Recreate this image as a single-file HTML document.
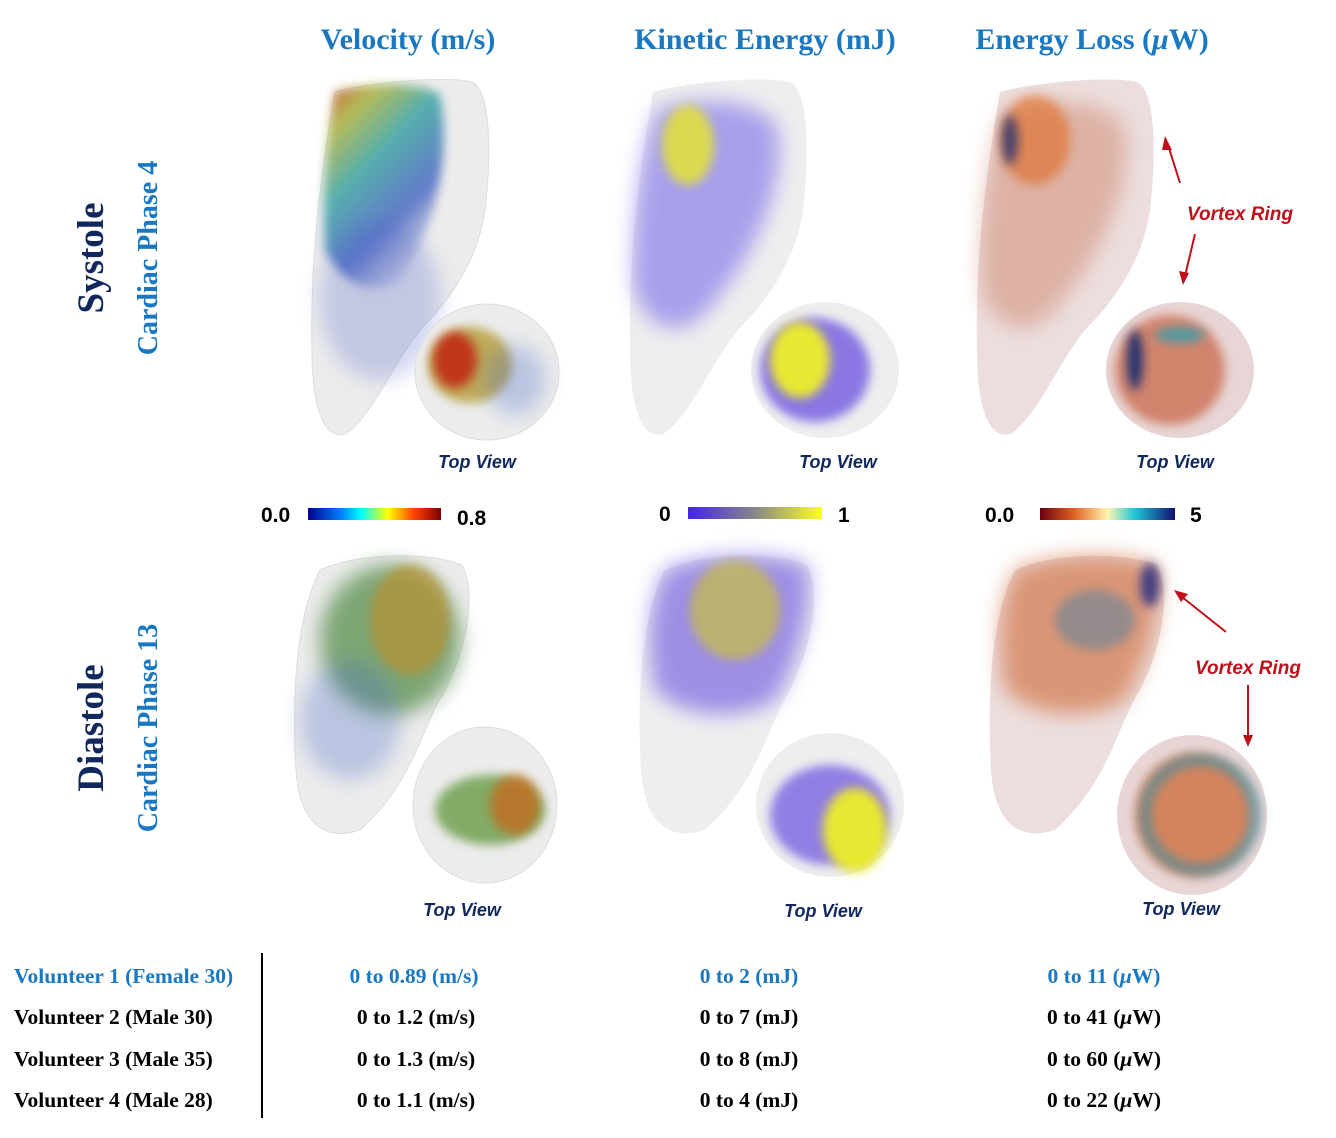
<!DOCTYPE html>
<html><head><meta charset="utf-8">
<style>
body{margin:0;background:#fff;width:1336px;height:1138px;overflow:hidden;font-family:"Liberation Serif",serif}
svg{position:absolute;left:0;top:0}
</style></head><body>
<svg width="1336" height="1138" viewBox="0 0 1336 1138">
<defs>
<filter id="bl" x="-50%" y="-50%" width="200%" height="200%"><feGaussianBlur stdDeviation="10"/></filter>
<filter id="bl2" x="-50%" y="-50%" width="200%" height="200%"><feGaussianBlur stdDeviation="5"/></filter>
<linearGradient id="jet"><stop offset="0" stop-color="#00008f"/><stop offset=".25" stop-color="#0080ff"/><stop offset=".4" stop-color="#00ffff"/><stop offset=".6" stop-color="#ffff00"/><stop offset=".8" stop-color="#ff4000"/><stop offset="1" stop-color="#800000"/></linearGradient>
<linearGradient id="ke"><stop offset="0" stop-color="#4422ee"/><stop offset=".5" stop-color="#888888"/><stop offset="1" stop-color="#ffff22"/></linearGradient>
<linearGradient id="el"><stop offset="0" stop-color="#6a0010"/><stop offset=".25" stop-color="#e06020"/><stop offset=".5" stop-color="#fff5b0"/><stop offset=".7" stop-color="#20c8d8"/><stop offset="1" stop-color="#101070"/></linearGradient>
<linearGradient id="velS" x1="0" y1="0" x2="0.6" y2="1"><stop offset="0" stop-color="#c03010"/><stop offset=".2" stop-color="#a8b030"/><stop offset=".45" stop-color="#30a0a0"/><stop offset=".75" stop-color="#4060c0"/><stop offset="1" stop-color="#8090d0" stop-opacity=".3"/></linearGradient>
<path id="lvS" d="M335 92 C360 84 440 75 472 82 C490 90 492 150 485 210 C478 260 450 300 420 330 C395 360 370 420 345 434 C325 440 312 410 312 350 C310 260 320 180 335 92Z"/>
<path id="lvD" d="M320 570 C360 552 430 552 462 565 C475 590 470 640 445 690 C420 730 415 780 360 830 C330 840 300 830 296 770 C292 700 295 620 320 570Z"/>
</defs>

<g font-weight="bold" font-size="30" fill="#1a78c2" text-anchor="middle">
<text x="408" y="49">Velocity (m/s)</text>
<text x="765" y="49">Kinetic Energy (mJ)</text>
<text x="1092" y="49">Energy Loss (<tspan font-style="italic">μ</tspan>W)</text>
</g>
<g font-weight="bold" text-anchor="middle">
<text transform="translate(103,258) rotate(-90)" font-size="37" fill="#10285e">Systole</text>
<text transform="translate(157,258) rotate(-90)" font-size="28" fill="#1a78c2">Cardiac Phase 4</text>
<text transform="translate(103,728) rotate(-90)" font-size="37" fill="#10285e">Diastole</text>
<text transform="translate(157,728) rotate(-90)" font-size="28" fill="#1a78c2">Cardiac Phase 13</text>
</g>

<g>
<use href="#lvS" fill="#ececec" stroke="#ddd"/>
<path d="M335 92 C360 84 420 80 440 95 C450 150 440 220 400 280 C370 300 340 280 325 250 C322 180 328 130 335 92Z" fill="url(#velS)" filter="url(#bl2)" opacity=".8"/>
<ellipse cx="380" cy="300" rx="60" ry="80" fill="#4a5cc8" opacity=".25" filter="url(#bl)"/>
</g>
<g>
<ellipse cx="487" cy="372" rx="72" ry="68" fill="#ececec" stroke="#ddd"/>
<ellipse cx="470" cy="365" rx="42" ry="38" fill="#b8a040" opacity=".85" filter="url(#bl2)"/>
<ellipse cx="455" cy="360" rx="22" ry="28" fill="#c02010" opacity=".85" filter="url(#bl2)"/>
<ellipse cx="515" cy="380" rx="30" ry="35" fill="#4a6cc8" opacity=".3" filter="url(#bl)"/>
</g>
<g transform="translate(318,0)">
<use href="#lvS" fill="#eeeeef"/>
<path d="M340 110 C380 95 450 100 460 130 C470 200 420 280 380 320 C350 340 320 320 315 280 C315 200 325 140 340 110Z" fill="#7060e8" opacity=".55" filter="url(#bl)"/>
<ellipse cx="370" cy="145" rx="26" ry="40" fill="#e0e040" opacity=".9" filter="url(#bl2)"/>
</g>
<g>
<ellipse cx="825" cy="370" rx="74" ry="68" fill="#eeeeef"/>
<ellipse cx="815" cy="370" rx="55" ry="52" fill="#6a50e0" opacity=".75" filter="url(#bl2)"/>
<ellipse cx="800" cy="360" rx="30" ry="38" fill="#e8e830" filter="url(#bl2)"/>
</g>
<g transform="translate(665,0)">
<use href="#lvS" fill="#ecdede"/>
<path d="M340 110 C380 95 450 100 460 130 C470 200 420 280 380 320 C350 340 320 320 315 280 C315 200 325 140 340 110Z" fill="#c87050" opacity=".4" filter="url(#bl)"/>
<ellipse cx="370" cy="140" rx="35" ry="45" fill="#e06a20" opacity=".6" filter="url(#bl2)"/>
<ellipse cx="345" cy="140" rx="8" ry="25" fill="#203070" opacity=".8" filter="url(#bl2)"/>
</g>
<g>
<ellipse cx="1180" cy="370" rx="74" ry="68" fill="#e8d6d6"/>
<ellipse cx="1170" cy="370" rx="55" ry="55" fill="#c86040" opacity=".7" filter="url(#bl2)"/>
<ellipse cx="1135" cy="360" rx="8" ry="30" fill="#203070" filter="url(#bl2)"/>
<ellipse cx="1180" cy="335" rx="25" ry="8" fill="#30a0b0" opacity=".8" filter="url(#bl2)"/>
</g>

<g font-family="Liberation Sans,sans-serif" font-style="italic" font-weight="bold" font-size="18" fill="#10285e" text-anchor="middle">
<text x="477" y="468">Top View</text>
<text x="838" y="468">Top View</text>
<text x="1175" y="468">Top View</text>
<text x="462" y="916">Top View</text>
<text x="823" y="917">Top View</text>
<text x="1181" y="915">Top View</text>
</g>

<g font-family="Liberation Sans,sans-serif" font-weight="bold" font-size="21" fill="#000">
<text x="261" y="522">0.0</text>
<rect x="308" y="508" width="133" height="12" fill="url(#jet)"/>
<text x="457" y="525">0.8</text>
<text x="659" y="521">0</text>
<rect x="688" y="507" width="134" height="12" fill="url(#ke)"/>
<text x="838" y="522">1</text>
<text x="985" y="522">0.0</text>
<rect x="1040" y="508" width="135" height="12" fill="url(#el)"/>
<text x="1190" y="522">5</text>
</g>

<g>
<use href="#lvD" fill="#ececec" stroke="#ddd"/>
<ellipse cx="390" cy="640" rx="70" ry="75" fill="#6a9a60" opacity=".85" filter="url(#bl)"/>
<ellipse cx="410" cy="620" rx="40" ry="55" fill="#b89030" filter="url(#bl2)" opacity=".7"/>
<ellipse cx="350" cy="720" rx="50" ry="60" fill="#4a6cc8" opacity=".3" filter="url(#bl)"/>
</g>
<g>
<ellipse cx="485" cy="805" rx="72" ry="78" fill="#ececec" stroke="#ddd"/>
<ellipse cx="490" cy="810" rx="55" ry="35" fill="#70a050" opacity=".85" filter="url(#bl2)"/>
<ellipse cx="515" cy="805" rx="25" ry="30" fill="#c07020" opacity=".85" filter="url(#bl2)"/>
</g>
<g transform="translate(345,0)">
<use href="#lvD" fill="#eeeeef"/>
<path d="M320 570 C360 552 430 552 462 565 C470 600 455 660 430 700 C400 720 340 720 310 690 C300 640 305 600 320 570Z" fill="#6a50e0" opacity=".6" filter="url(#bl)"/>
<ellipse cx="390" cy="610" rx="45" ry="50" fill="#c8c040" opacity=".7" filter="url(#bl2)"/>
</g>
<g>
<ellipse cx="830" cy="805" rx="74" ry="72" fill="#eeeeef"/>
<ellipse cx="830" cy="815" rx="60" ry="50" fill="#6a50e0" opacity=".7" filter="url(#bl2)"/>
<ellipse cx="855" cy="830" rx="32" ry="42" fill="#e8e830" filter="url(#bl2)"/>
</g>
<g transform="translate(695,0)">
<use href="#lvD" fill="#ecdede"/>
<path d="M320 570 C360 552 430 552 462 565 C470 600 455 660 430 700 C400 720 340 720 310 690 C300 640 305 600 320 570Z" fill="#d07040" opacity=".65" filter="url(#bl)"/>
<ellipse cx="400" cy="620" rx="40" ry="30" fill="#5080a0" opacity=".5" filter="url(#bl2)"/>
<ellipse cx="455" cy="585" rx="10" ry="22" fill="#202880" opacity=".8" filter="url(#bl2)"/>
</g>
<g>
<ellipse cx="1192" cy="815" rx="75" ry="80" fill="#e8d6d6"/>
<ellipse cx="1195" cy="815" rx="60" ry="62" fill="#d07040" opacity=".8" filter="url(#bl2)"/>
<ellipse cx="1200" cy="815" rx="55" ry="55" fill="none" stroke="#3090a8" stroke-width="12" opacity=".6" filter="url(#bl2)"/>
</g>

<g fill="#c0101a" stroke="#c0101a">
<text x="1240" y="220" font-family="Liberation Sans,sans-serif" font-style="italic" font-weight="bold" font-size="19" text-anchor="middle" stroke="none">Vortex Ring</text>
<line x1="1180" y1="183" x2="1168" y2="145" stroke-width="2"/>
<polygon points="1165,136 1172,150 1162,150" stroke="none"/>
<line x1="1195" y1="234" x2="1185" y2="276" stroke-width="2"/>
<polygon points="1183,285 1179,271 1189,273" stroke="none"/>
<text x="1248" y="674" font-family="Liberation Sans,sans-serif" font-style="italic" font-weight="bold" font-size="19" text-anchor="middle" stroke="none">Vortex Ring</text>
<line x1="1226" y1="632" x2="1182" y2="597" stroke-width="2"/>
<polygon points="1174,590 1188,594 1181,602" stroke="none"/>
<line x1="1248" y1="685" x2="1248" y2="738" stroke-width="2"/>
<polygon points="1248,747 1243,735 1253,735" stroke="none"/>
</g>

<line x1="262" y1="953" x2="262" y2="1118" stroke="#000" stroke-width="2"/>
<g font-weight="bold" font-size="21.5">
<g fill="#1a78c2">
<text x="14" y="983">Volunteer 1 (Female 30)</text>
<text x="414" y="983" text-anchor="middle">0 to 0.89 (m/s)</text>
<text x="749" y="983" text-anchor="middle">0 to 2 (mJ)</text>
<text x="1104" y="983" text-anchor="middle">0 to 11 (<tspan font-style="italic">μ</tspan>W)</text>
</g>
<g fill="#000">
<text x="14" y="1024">Volunteer 2 (Male 30)</text>
<text x="416" y="1024" text-anchor="middle">0 to 1.2 (m/s)</text>
<text x="749" y="1024" text-anchor="middle">0 to 7 (mJ)</text>
<text x="1104" y="1024" text-anchor="middle">0 to 41 (<tspan font-style="italic">μ</tspan>W)</text>
<text x="14" y="1066">Volunteer 3 (Male 35)</text>
<text x="416" y="1066" text-anchor="middle">0 to 1.3 (m/s)</text>
<text x="749" y="1066" text-anchor="middle">0 to 8 (mJ)</text>
<text x="1104" y="1066" text-anchor="middle">0 to 60 (<tspan font-style="italic">μ</tspan>W)</text>
<text x="14" y="1107">Volunteer 4 (Male 28)</text>
<text x="416" y="1107" text-anchor="middle">0 to 1.1 (m/s)</text>
<text x="749" y="1107" text-anchor="middle">0 to 4 (mJ)</text>
<text x="1104" y="1107" text-anchor="middle">0 to 22 (<tspan font-style="italic">μ</tspan>W)</text>
</g>
</g>
</svg>
</body></html>
